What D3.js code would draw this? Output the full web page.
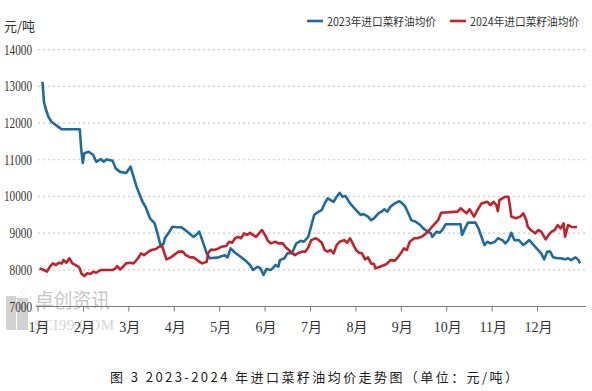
<!DOCTYPE html>
<html><head><meta charset="utf-8">
<script src="https://cdn.jsdelivr.net/npm/d3@7"></script>
<style>html,body{margin:0;padding:0;background:#fff;}svg{display:block;}</style>
</head><body>
<svg id="c" width="592" height="391"></svg>
<script>
// ---- data ----
const months = ["1月","2月","3月","4月","5月","6月","7月","8月","9月","10月","11月","12月"];
const yTicks = [7000,8000,9000,10000,11000,12000,13000,14000];
const seriesNames = ["2023年进口菜籽油均价","2024年进口菜籽油均价"];
const seriesColors = ["#1f6b9c","#c0232b"];
// day of year
const days2023 = [3,4,5,7,9,12,15,16,28,29,30,31,34,37,39,42,44,46,50,52,55,59,62,64,66,70,72,75,78,80,82,84,85,88,90,93,96,100,104,106,108,110,113,115,121,125,127,129,132,135,139,142,144,147,149,151,153,156,159,161,162,165,167,170,171,173,176,178,181,183,185,188,190,192,194,198,200,202,204,206,209,212,214,216,218,221,223,225,228,230,232,234,236,239,242,244,246,248,250,253,256,258,261,263,264,267,269,271,273,283,284,286,288,293,295,297,299,301,303,306,308,311,313,315,317,319,322,325,327,329,332,335,337,339,341,343,345,348,350,353,355,357,360,362,363];
const values2023 = [13125,12580,12410,12170,12035,11945,11855,11830,11830,11265,10910,11180,11220,11130,10945,11020,10945,11010,10970,10765,10670,10640,10810,10535,10265,9855,9720,9405,9270,8995,8675,8700,8865,9040,9175,9160,9160,9040,8900,8950,9040,8810,8450,8315,8340,8400,8340,8585,8465,8375,8250,8130,7995,8085,8040,7860,8020,7995,8130,8085,8265,8315,8450,8450,8540,8720,8790,8765,8900,9200,9500,9585,9630,9810,9950,9855,9990,10100,9990,10010,9810,9675,9585,9495,9520,9450,9355,9405,9540,9585,9650,9585,9720,9810,9870,9810,9720,9540,9355,9310,9220,9130,9040,9000,8900,9040,9010,9100,9240,9240,8950,9130,9285,9285,9130,8900,8675,8765,8720,8765,8860,8810,8720,8810,9010,8810,8810,8675,8740,8810,8675,8540,8450,8285,8495,8495,8340,8315,8315,8285,8315,8265,8340,8265,8175];
const days2024 = [1,4,6,8,10,12,14,16,17,19,21,23,27,28,29,31,33,35,37,39,42,50,52,53,55,57,59,62,64,67,69,71,74,76,79,81,83,84,86,89,91,94,97,99,102,104,106,108,110,113,114,116,118,121,123,126,128,130,132,134,136,138,140,142,144,146,149,150,152,154,156,159,161,164,166,168,170,172,174,177,179,181,183,186,188,190,192,194,196,198,200,202,205,207,209,211,213,215,217,219,221,223,225,226,229,232,234,236,239,241,243,245,247,249,252,254,257,260,262,264,266,268,270,281,283,287,289,292,295,297,301,303,305,307,308,309,311,313,315,316,317,320,323,325,327,328,330,333,335,337,340,342,344,346,348,350,352,353,355,357,359,361];
const values2024 = [8040,7995,7950,8085,8175,8130,8195,8175,8265,8195,8315,8175,8085,8040,7905,7830,7905,7885,7950,7920,7995,7995,8040,8100,8010,8085,8175,8195,8175,8315,8450,8400,8495,8540,8565,8630,8650,8540,8285,8340,8400,8495,8495,8400,8340,8340,8285,8220,8175,8220,8465,8555,8540,8585,8630,8650,8765,8740,8860,8900,8860,8995,8950,9010,8950,8900,9040,9085,8950,8790,8720,8765,8720,8720,8610,8540,8465,8400,8450,8495,8495,8610,8810,8860,8810,8740,8540,8495,8540,8450,8675,8765,8810,8740,8860,8700,8540,8465,8450,8285,8340,8175,8160,8040,8085,8130,8175,8265,8250,8340,8450,8585,8540,8765,8860,8860,8900,8995,9085,9175,9265,9355,9555,9585,9675,9540,9650,9450,9675,9810,9855,9765,9855,9765,9600,9900,9950,9990,9990,9765,9450,9405,9450,9540,9355,9175,9085,8995,9085,9040,8830,8950,9040,9085,9220,9130,9265,8900,9220,9175,9160,9175];

// ---- layout ----
const svg = d3.select("#c");
const x = d3.scaleLinear().domain([0,365]).range([38,583]);
const y = d3.scaleLinear().domain([7000,14000]).range([306.5,49.7]);

// watermark
const wm = svg.append("g").attr("fill","#d2d2d2");
wm.append("rect").attr("x",6).attr("y",296).attr("width",10).attr("height",34);
wm.append("rect").attr("x",17).attr("y",298).attr("width",11).attr("height",32);
wm.append("text").attr("x",20).attr("y",295).attr("font-size",9).attr("fill","#c8c8c8").text("⁘");
wm.append("text").attr("x",35).attr("y",308).attr("font-family","'Noto Sans CJK SC'").attr("font-size",20)
  .attr("textLength",75).attr("lengthAdjust","spacingAndGlyphs").attr("fill","#c6c6c6").text("卓创资讯");
wm.append("text").attr("x",34).attr("y",330).attr("font-family","'Liberation Serif'").attr("font-size",15)
  .attr("textLength",80).attr("fill","#d4d4d4").text("SCI99.COM");

// grid
svg.append("g").selectAll("line").data(yTicks.filter(v=>v>7000)).join("line")
  .attr("x1",38).attr("x2",586).attr("y1",d=>y(d)).attr("y2",d=>y(d))
  .attr("stroke","#c9c9c9").attr("stroke-width",1.2).attr("stroke-dasharray","2,3");

// y labels
svg.append("g").selectAll("text").data(yTicks).join("text")
  .attr("x",32).attr("y",d=>y(d)+5).attr("text-anchor","end")
  .attr("font-family","'Liberation Serif'").attr("font-size",14).attr("fill","#333")
  .attr("textLength",d=>String(d).length*5.6).attr("lengthAdjust","spacingAndGlyphs")
  .text(d=>d);

// x axis
const monthScale = d3.scaleLinear().domain([0,12]).range([x(0),x(365)]);
svg.append("line").attr("x1",36).attr("x2",586).attr("y1",y(7000)).attr("y2",y(7000)).attr("stroke","#7a7a7a").attr("stroke-width",1);
svg.append("g").selectAll("line").data(months).join("line")
  .attr("x1",(d,i)=>monthScale(i)).attr("x2",(d,i)=>monthScale(i))
  .attr("y1",y(7000)).attr("y2",y(7000)+5).attr("stroke","#7a7a7a");
svg.append("g").selectAll("text").data(months).join("text")
  .attr("x",(d,i)=>monthScale(i)+1).attr("y",332).attr("text-anchor","middle")
  .attr("font-family","'Liberation Serif','Noto Sans CJK SC'").attr("font-size",14).attr("fill","#333")
  .text(d=>d);

// unit
svg.append("text").attr("x",4).attr("y",31).attr("font-family","'Noto Sans CJK SC'").attr("font-size",13).attr("fill","#333").text("元/吨");

// lines
const line = d3.line().x(d=>x(d[0])).y(d=>y(d[1]));
const s2023 = days2023.map((d,i)=>[d,values2023[i]]);
const s2024 = days2024.map((d,i)=>[d,values2024[i]]);
svg.append("path").datum(s2023).attr("d",line).attr("fill","none").attr("stroke",seriesColors[0]).attr("stroke-width",2.6).attr("stroke-linejoin","round");
svg.append("path").datum(s2024).attr("d",line).attr("fill","none").attr("stroke",seriesColors[1]).attr("stroke-width",2.6).attr("stroke-linejoin","round");

// legend
const leg = [{x:307,t:seriesNames[0],c:seriesColors[0]},{x:450,t:seriesNames[1],c:seriesColors[1]}];
const lg = svg.append("g").selectAll("g").data(leg).join("g");
lg.append("line").attr("x1",d=>d.x).attr("x2",d=>d.x+16).attr("y1",21).attr("y2",21).attr("stroke",d=>d.c).attr("stroke-width",2.6);
lg.append("text").attr("x",d=>d.x+20).attr("y",25.5).attr("font-family","'Noto Sans CJK SC'").attr("font-size",11.5).attr("fill","#333")
  .attr("textLength",109).attr("lengthAdjust","spacingAndGlyphs").text(d=>d.t);

// caption
svg.append("text").attr("x",110).attr("y",382).attr("font-family","'Noto Sans CJK SC'").attr("font-size",13).attr("fill","#222")
  .attr("textLength",408).attr("lengthAdjust","spacing").text("图 3   2023-2024 年进口菜籽油均价走势图（单位：元/吨）");
</script>
</body></html>
